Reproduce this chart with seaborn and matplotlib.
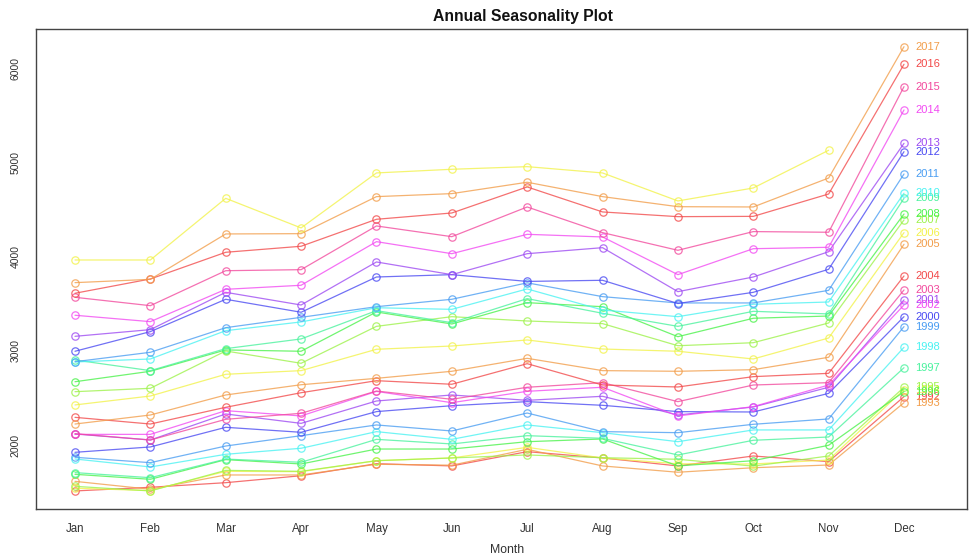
import colorsys
import numpy as np
import pandas as pd
import matplotlib
matplotlib.use("Agg")
import matplotlib.pyplot as plt
import seaborn as sns

months = ["Jan", "Feb", "Mar", "Apr", "May", "Jun", "Jul", "Aug", "Sep", "Oct", "Nov", "Dec"]

y1992 = [1511, 1550, 1599, 1673, 1801, 1777, 1929, 1862, 1777, 1883, 1823, 2514]
y1993 = [1613, 1529, 1681, 1681, 1795, 1785, 1954, 1777, 1710, 1758, 1787, 2450]
y1994 = [1540, 1515, 1720, 1716, 1833, 1862, 1975, 1862, 1800, 1798, 1840, 2590]
y1995 = [1560, 1511, 1730, 1720, 1833, 1862, 1894, 1865, 1848, 1775, 1883, 2614]
y1996 = [1688, 1635, 1844, 1798, 1957, 1957, 2035, 2064, 1777, 1833, 1997, 2567]
y1997 = [1706, 1652, 1850, 1816, 2060, 2011, 2099, 2071, 1894, 2050, 2085, 2822]
y1998 = [1851, 1766, 1901, 1965, 2142, 2060, 2213, 2131, 2035, 2160, 2160, 3039]
y1999 = [1869, 1812, 1989, 2099, 2213, 2149, 2340, 2142, 2131, 2220, 2277, 3259]
y2000 = [1922, 1979, 2188, 2135, 2355, 2418, 2461, 2422, 2355, 2351, 2549, 3365]
y2001 = [2117, 2053, 2330, 2230, 2468, 2532, 2475, 2518, 2319, 2404, 2614, 3543]
y2002 = [2113, 2113, 2365, 2309, 2570, 2450, 2571, 2614, 2309, 2408, 2638, 3489]
y2003 = [2120, 2053, 2273, 2337, 2574, 2486, 2614, 2663, 2461, 2638, 2663, 3649]
y2004 = [2294, 2223, 2401, 2556, 2684, 2646, 2865, 2638, 2617, 2727, 2762, 3798]
y2005 = [2223, 2319, 2532, 2641, 2709, 2784, 2922, 2791, 2784, 2801, 2933, 4135]
y2006 = [2426, 2521, 2752, 2791, 3018, 3053, 3117, 3021, 2997, 2915, 3138, 4259]
y2007 = [2567, 2603, 3000, 2869, 3262, 3365, 3319, 3291, 3056, 3088, 3298, 4394]
y2008 = [2673, 2784, 3011, 2997, 3415, 3287, 3514, 3471, 3152, 3348, 3372, 4457]
y2009 = [2904, 2791, 3025, 3128, 3429, 3301, 3557, 3401, 3262, 3422, 3394, 4624]
y2010 = [2883, 2915, 3216, 3309, 3460, 3443, 3660, 3436, 3365, 3497, 3521, 4678]
y2011 = [2886, 2986, 3248, 3358, 3471, 3550, 3725, 3578, 3511, 3511, 3645, 4883]
y2012 = [2997, 3206, 3550, 3412, 3787, 3812, 3740, 3752, 3505, 3624, 3869, 5120]
y2013 = [3156, 3227, 3624, 3489, 3947, 3812, 4035, 4099, 3631, 3787, 4056, 5209]
y2014 = [3380, 3312, 3656, 3699, 4163, 4035, 4241, 4213, 3812, 4088, 4103, 5564]
y2015 = [3571, 3482, 3854, 3865, 4330, 4216, 4532, 4259, 4071, 4270, 4263, 5812]
y2016 = [3614, 3766, 4050, 4114, 4401, 4468, 4745, 4479, 4429, 4432, 4670, 6050]
y2017 = [3727, 3762, 4245, 4248, 4642, 4674, 4795, 4642, 4535, 4532, 4840, 6237]
y2018 = [3968, 3968, 4624, 4309, 4894, 4933, 4961, 4894, 4596, 4734, 5135, np.nan]

series = {
    "1992": y1992, "1993": y1993, "1994": y1994, "1995": y1995, "1996": y1996,
    "1997": y1997, "1998": y1998, "1999": y1999, "2000": y2000, "2001": y2001,
    "2002": y2002, "2003": y2003, "2004": y2004, "2005": y2005, "2006": y2006,
    "2007": y2007, "2008": y2008, "2009": y2009, "2010": y2010, "2011": y2011,
    "2012": y2012, "2013": y2013, "2014": y2014, "2015": y2015, "2016": y2016,
    "2017": y2017, "2018": y2018,
}
years = list(series.keys())

rows = []
for yr, vals in series.items():
    for i, v in enumerate(vals):
        if not np.isnan(v):
            rows.append({"year": yr, "month": i + 1, "value": v})
df = pd.DataFrame(rows)


def year_color(yr):
    h = ((int(yr) - 1992) % 12) * 30 / 360.0
    return colorsys.hsv_to_rgb(h, 0.70, 0.95)


palette = {yr: year_color(yr) for yr in years}

sns.set_style("white")
plt.rcParams["font.family"] = ["Liberation Sans", "DejaVu Sans"]

fig = plt.figure(figsize=(9.69, 5.6), dpi=100)
ax = fig.add_axes([36 / 969, 1 - 509 / 560, (967 - 36) / 969, (509 - 29.3) / 560])

sns.lineplot(data=df, x="month", y="value", hue="year", hue_order=years,
             palette=palette, marker="o", markersize=5.3, linewidth=0.9,
             alpha=0.78, legend=False, ax=ax, sort=False)
for ln in ax.lines:
    ln.set_markeredgecolor(ln.get_color())
    ln.set_markerfacecolor("none")
    ln.set_markeredgewidth(0.9)

for yr in years:
    v = series[yr][11]
    if not np.isnan(v):
        ax.annotate(yr, xy=(12, v), xytext=(8, 0), textcoords="offset points",
                    va="center", ha="left", fontsize=8, color=palette[yr])

ax.set_xlim(0.4825, 12.836)
ax.set_ylim(1319, 6422)
ax.set_xticks(range(1, 13))
ax.set_xticklabels(months)
ax.set_yticks([2000, 3000, 4000, 5000, 6000])
ax.set_yticklabels(["2000", "3000", "4000", "5000", "6000"], rotation=90, va="center")
ax.tick_params(axis="both", direction="out", length=5, width=0.9, color="#555555",
               labelcolor="#333333")
ax.tick_params(axis="x", pad=5, labelsize=8.3)
ax.tick_params(axis="y", pad=6, labelsize=7.5)
for sp in ax.spines.values():
    sp.set_visible(True)
    sp.set_color("#444444")
    sp.set_linewidth(1.0)
ax.set_xlabel("")
ax.set_ylabel("")
fig.text(507 / 969, 1 - 550 / 560, "Month", ha="center", va="center",
         fontsize=8.8, color="#333333")
fig.text(523 / 969, 1 - 17 / 560, "Annual Seasonality Plot", ha="center", va="center",
         fontsize=11.3, fontweight="bold", color="#111111")

fig.savefig("out.png", dpi=100, facecolor="white")
